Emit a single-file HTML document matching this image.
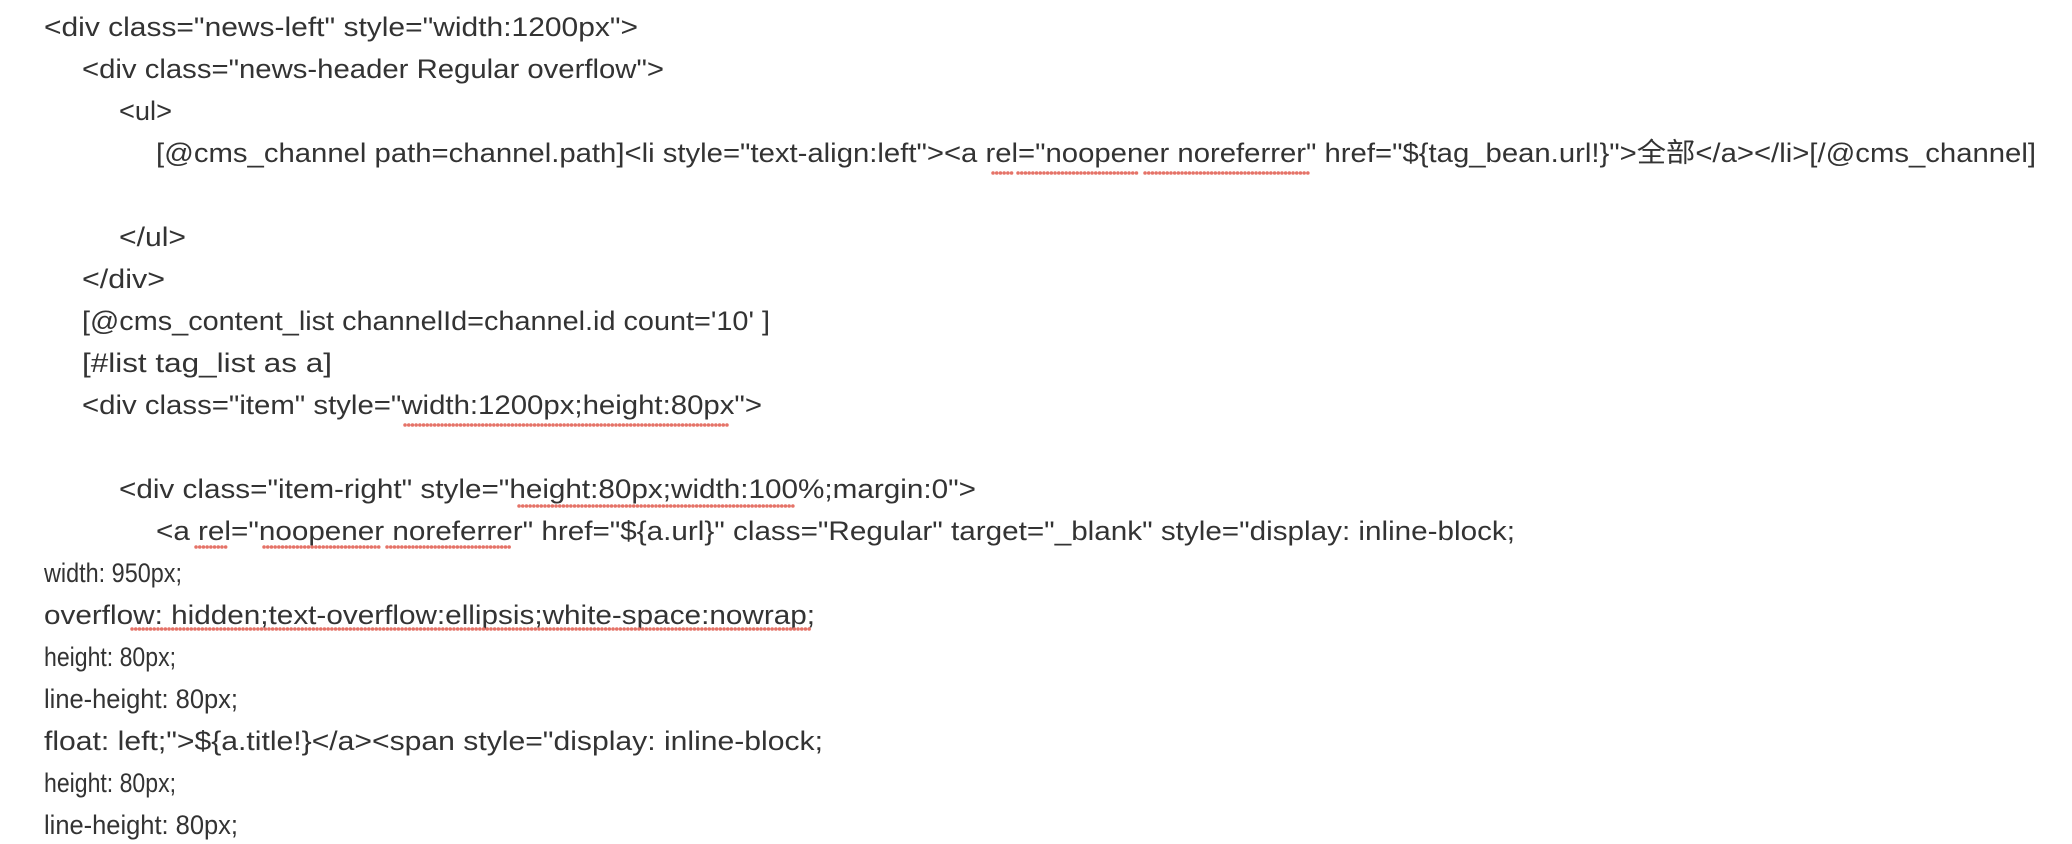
<!DOCTYPE html>
<html><head><meta charset="utf-8"><style>
html,body{margin:0;padding:0;background:#fff;width:2072px;height:844px;overflow:hidden}
svg text{font-family:"Liberation Sans","Noto Sans CJK SC",sans-serif;font-size:27px;fill:#333}
</style></head><body>
<svg width="2072" height="844" xmlns="http://www.w3.org/2000/svg">
<g>
<text x="44" y="36" textLength="594" lengthAdjust="spacingAndGlyphs">&lt;div class="news-left" style="width:1200px"&gt;</text>
<text x="82" y="78" textLength="582" lengthAdjust="spacingAndGlyphs">&lt;div class="news-header Regular overflow"&gt;</text>
<text x="119" y="120" textLength="53" lengthAdjust="spacingAndGlyphs">&lt;ul&gt;</text>
<text x="156" y="162" textLength="1880" lengthAdjust="spacingAndGlyphs">[@cms_channel path=channel.path]&lt;li style="text-align:left"&gt;&lt;a rel="noopener noreferrer" href="${tag_bean.url!}"&gt;全部&lt;/a&gt;&lt;/li&gt;[/@cms_channel]</text>
<text x="119" y="246" textLength="67" lengthAdjust="spacingAndGlyphs">&lt;/ul&gt;</text>
<text x="82" y="288" textLength="83" lengthAdjust="spacingAndGlyphs">&lt;/div&gt;</text>
<text x="82" y="330" textLength="688" lengthAdjust="spacingAndGlyphs">[@cms_content_list channelId=channel.id count='10' ]</text>
<text x="82" y="372" textLength="250" lengthAdjust="spacingAndGlyphs">[#list tag_list as a]</text>
<text x="82" y="414" textLength="680" lengthAdjust="spacingAndGlyphs">&lt;div class="item" style="width:1200px;height:80px"&gt;</text>
<text x="119" y="498" textLength="857" lengthAdjust="spacingAndGlyphs">&lt;div class="item-right" style="height:80px;width:100%;margin:0"&gt;</text>
<text x="156" y="540" textLength="1359" lengthAdjust="spacingAndGlyphs">&lt;a rel="noopener noreferrer" href="${a.url}" class="Regular" target="_blank" style="display: inline-block;</text>
<text x="44" y="582" textLength="138" lengthAdjust="spacingAndGlyphs">width: 950px;</text>
<text x="44" y="624" textLength="771" lengthAdjust="spacingAndGlyphs">overflow: hidden;text-overflow:ellipsis;white-space:nowrap;</text>
<text x="44" y="666" textLength="132" lengthAdjust="spacingAndGlyphs">height: 80px;</text>
<text x="44" y="708" textLength="194" lengthAdjust="spacingAndGlyphs">line-height: 80px;</text>
<text x="44" y="750" textLength="779" lengthAdjust="spacingAndGlyphs">float: left;"&gt;${a.title!}&lt;/a&gt;&lt;span style="display: inline-block;</text>
<text x="44" y="792" textLength="132" lengthAdjust="spacingAndGlyphs">height: 80px;</text>
<text x="44" y="834" textLength="194" lengthAdjust="spacingAndGlyphs">line-height: 80px;</text>
</g>
<g stroke="#e57368" stroke-width="3.5" stroke-linecap="round" stroke-dasharray="0.1 3.6" fill="none">
<line x1="993" y1="173" x2="1013" y2="173"/>
<line x1="1018" y1="173" x2="1137" y2="173"/>
<line x1="1145" y1="173" x2="1310" y2="173"/>
<line x1="405" y1="425" x2="730" y2="425"/>
<line x1="519" y1="506" x2="795" y2="506"/>
<line x1="196" y1="547" x2="227" y2="547"/>
<line x1="264" y1="547" x2="379" y2="547"/>
<line x1="387" y1="547" x2="511" y2="547"/>
<line x1="132" y1="629" x2="812" y2="629"/>
</g>
</svg>
</body></html>
